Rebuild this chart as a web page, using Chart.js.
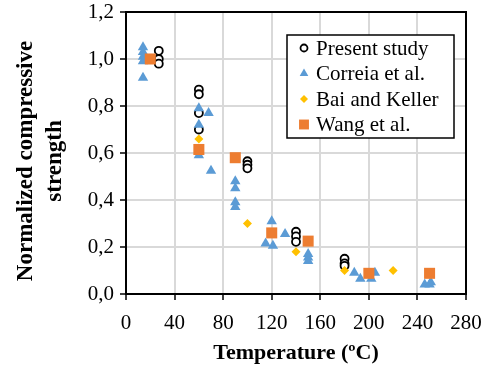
<!DOCTYPE html>
<html>
<head>
<meta charset="utf-8">
<script src="https://cdn.jsdelivr.net/npm/chart.js@4/dist/chart.umd.min.js"></script>
<style>
  html, body { margin: 0; padding: 0; background: #fff; }
  #wrap { width: 491px; height: 369px; }
</style>
</head>
<body>
<div id="wrap"><canvas id="c" width="491" height="369"></canvas></div>
<script>
// Temperature (ºC) and normalized compressive strength
const presentX = [27, 27, 27, 60, 60, 60, 60, 100, 100, 100, 140, 140, 140, 180, 180, 180];
const presentY = [1.035, 1.0, 0.98, 0.87, 0.85, 0.77, 0.70, 0.565, 0.55, 0.535, 0.265, 0.245, 0.222, 0.15, 0.13, 0.12];

const correiaX = [14, 14, 14, 14, 14, 60, 68, 60, 60, 70, 90, 90, 90, 90, 120, 131, 115, 121, 150, 150, 150, 188, 193, 202, 205, 246, 251, 250];
const correiaY = [1.05, 1.03, 1.01, 0.99, 0.92, 0.79, 0.77, 0.72, 0.59, 0.525, 0.48, 0.45, 0.39, 0.37, 0.31, 0.255, 0.215, 0.205, 0.17, 0.155, 0.14, 0.09, 0.065, 0.065, 0.09, 0.04, 0.05, 0.04];

const baiX = [60, 100, 140, 180, 220];
const baiY = [0.66, 0.30, 0.18, 0.10, 0.10];

const wangX = [20, 60, 90, 120, 150, 200, 250];
const wangY = [1.0, 0.615, 0.58, 0.26, 0.225, 0.088, 0.088];

const xTicks = [0, 40, 80, 120, 160, 200, 240, 280];
const yTicks = [0, 0.2, 0.4, 0.6, 0.8, 1.0, 1.2];
const yTitle = ['Normalized compressive', 'strength'];

const pts = (xs, ys) => xs.map((x, i) => ({ x: x, y: ys[i] }));
const serif = '"Liberation Serif", "Times New Roman", serif';

// legend box drawn inside the plot, like the original
const boxLegend = {
    id: 'boxLegend',
    afterDraw(chart) {
        const ctx = chart.ctx;
        const a = chart.chartArea;
        const w = 167, h = 103;
        const x0 = a.right - 12 - w, y0 = a.top + 23;
        ctx.save();
        ctx.fillStyle = '#fff';
        ctx.fillRect(x0, y0, w, h);
        ctx.strokeStyle = '#000';
        ctx.lineWidth = 1.5;
        ctx.strokeRect(x0, y0, w, h);
        ctx.font = '21px ' + serif;
        ctx.textBaseline = 'middle';
        ctx.fillStyle = '#000';
        chart.data.datasets.forEach((ds, i) => {
            const cy = y0 + 13 + i * 25.5;
            const cx = x0 + 17;
            ctx.save();
            ctx.fillStyle = ds.backgroundColor;
            ctx.strokeStyle = ds.borderColor;
            ctx.lineWidth = ds.borderWidth;
            Chart.helpers.drawPoint(ctx, {
                pointStyle: ds.pointStyle,
                radius: ds.legendRadius,
                borderWidth: ds.borderWidth
            }, cx, cy);
            ctx.restore();
            ctx.fillText(ds.label, x0 + 29, cy + 1);
        });
        ctx.restore();
    }
};

// black frame round the plot area, y title placed as in the original
const frame = {
    id: 'frame',
    beforeDatasetsDraw(chart) {
        const a = chart.chartArea;
        const ctx = chart.ctx;
        ctx.save();
        ctx.strokeStyle = '#000';
        ctx.lineWidth = 2;
        ctx.strokeRect(a.left, a.top, a.right - a.left, a.bottom - a.top);
        ctx.translate(26, 161);
        ctx.rotate(-Math.PI / 2);
        ctx.font = 'bold 23px ' + serif;
        ctx.fillStyle = '#000';
        ctx.textAlign = 'center';
        ctx.textBaseline = 'middle';
        yTitle.forEach((t, i) => ctx.fillText(t, 0, i * 29));
        ctx.restore();
    }
};

new Chart(document.getElementById('c'), {
    type: 'scatter',
    data: {
        datasets: [
            { label: 'Present study', data: pts(presentX, presentY), pointStyle: 'circle', pointRadius: 4, legendRadius: 3.5,
              backgroundColor: '#fff', borderColor: '#000', borderWidth: 1.8, order: 4 },
            { label: 'Correia et al.', data: pts(correiaX, correiaY), pointStyle: 'triangle', pointRadius: 6, legendRadius: 5,
              backgroundColor: '#5b9bd5', borderColor: '#5b9bd5', borderWidth: 0, order: 3 },
            { label: 'Bai and Keller', data: pts(baiX, baiY), pointStyle: 'rectRot', pointRadius: 4.5, legendRadius: 4,
              backgroundColor: '#ffc000', borderColor: '#ffc000', borderWidth: 0, order: 2 },
            { label: 'Wang et al.', data: pts(wangX, wangY), pointStyle: 'rect', pointRadius: 7.8, legendRadius: 7,
              backgroundColor: '#ed7d31', borderColor: '#ed7d31', borderWidth: 0, order: 1 }
        ]
    },
    options: {
        responsive: false,
        animation: false,
        events: [],
        layout: { padding: { top: 12, right: 25, bottom: 0, left: 0 } },
        plugins: {
            legend: { display: false },
            tooltip: { enabled: false }
        },
        scales: {
            x: {
                type: 'linear',
                min: 0, max: 280,
                afterBuildTicks: s => { s.ticks = xTicks.map(v => ({ value: v })); },
                afterFit: s => { s.height = 75; s.paddingLeft = 0; s.paddingRight = 0; },
                grid: { color: '#d9d9d9', lineWidth: 2, tickColor: '#000', tickLength: 6, tickWidth: 1.5 },
                border: { display: false },
                ticks: { color: '#000', font: { family: serif, size: 21 }, padding: 11, maxRotation: 0 },
                title: { display: true, text: 'Temperature (ºC)', color: '#000',
                         font: { family: serif, size: 22, weight: 'bold' }, padding: { top: 0, bottom: 2 } }
            },
            y: {
                min: 0, max: 1.2,
                afterBuildTicks: s => { s.ticks = yTicks.map(v => ({ value: v })); },
                afterFit: s => { s.width = 126; s.paddingTop = 0; s.paddingBottom = 0; },
                grid: { color: '#d9d9d9', lineWidth: 2, tickColor: '#000', tickLength: 6, tickWidth: 1.5 },
                border: { display: false },
                ticks: { color: '#000', font: { family: serif, size: 21 }, padding: 6,
                         callback: v => v.toFixed(1).replace('.', ',') }
            }
        }
    },
    plugins: [frame, boxLegend]
});
</script>
</body>
</html>
